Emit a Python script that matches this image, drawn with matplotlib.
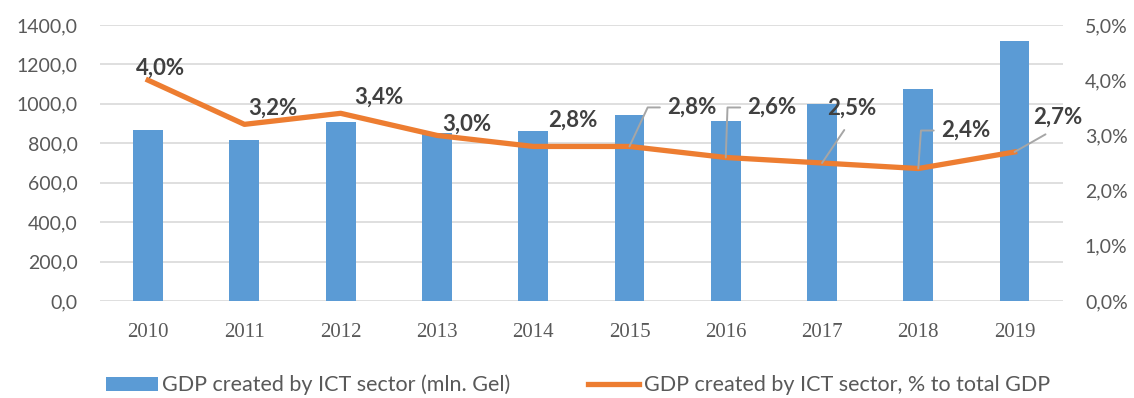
import numpy as np
import matplotlib.pyplot as plt
from matplotlib.patches import Patch
from matplotlib.lines import Line2D

# ICT sector figures, Georgia
years = ['2010', '2011', '2012', '2013', '2014', '2015', '2016', '2017', '2018', '2019']
gdp_ict = [867, 817, 908, 853, 864, 945, 913, 999, 1075, 1320]
share_pct = [4.0, 3.2, 3.4, 3.0, 2.8, 2.8, 2.6, 2.5, 2.4, 2.7]

BLUE = '#5B9BD5'
ORANGE = '#ED7D31'
GREY_TXT = '#595959'
LABEL_TXT = '#404040'

plt.rcParams['font.family'] = ['Lato', 'DejaVu Sans']

fig = plt.figure(figsize=(11.34, 3.98), dpi=100)
ax = fig.add_axes([100 / 1134, 1 - 301 / 398, 962.7 / 1134, 276 / 398])
x = np.arange(len(years))

ax.bar(x, gdp_ict, width=0.31, color=BLUE, zorder=2)
ax.set_ylim(0, 1400)
ax.set_yticks(np.arange(0, 1401, 200))
ax.set_yticklabels([f'{v:.1f}'.replace('.', ',') for v in np.arange(0, 1401, 200)])
ax.set_xlim(-0.5, len(years) - 0.5)
ax.set_xticks(x)
ax.set_xticklabels(years, family='Liberation Serif', fontsize=15, color=GREY_TXT)
ax.grid(axis='y', color='#D9D9D9', linewidth=1.2, zorder=0)
ax.set_axisbelow(True)
ax.tick_params(axis='y', length=0, pad=16, labelsize=14, labelcolor=GREY_TXT)
ax.tick_params(axis='x', length=0, pad=16)
for s in ax.spines.values():
    s.set_visible(False)

ax2 = ax.twinx()
ax2.plot(x, share_pct, color=ORANGE, linewidth=3.8, solid_joinstyle='round', zorder=3)
ax2.set_ylim(0, 5)
ax2.set_yticks(np.arange(0, 5.1, 1))
ax2.set_yticklabels([f'{v:.1f}%'.replace('.', ',') for v in np.arange(0, 5.1, 1)])
ax2.tick_params(axis='y', length=0, pad=16, labelsize=14, labelcolor=GREY_TXT)
for s in ax2.spines.values():
    s.set_visible(False)

# label offsets in pixels (text centre relative to point), plus leader style
offsets = [(12, 12), (28, 16), (38, 16), (30, 11), (40, 26),
           (62, 39), (46, 50), (30, 55), (47, 38), (43, 35)]
leaders = [None, None, None, None, None,
           ('elbow', 65), ('elbow', 88), ('straight', None), ('elbow', 86), ('straight', None)]

for i, v in enumerate(share_pct):
    txt = f'{v:.1f}%'.replace('.', ',')
    kw = dict(xy=(x[i], v), xytext=offsets[i], textcoords='offset pixels',
              ha='center', va='center', fontsize=16, fontweight='bold',
              color=LABEL_TXT, zorder=5)
    lead = leaders[i]
    if lead is None:
        ax2.annotate(txt, **kw)
    elif lead[0] == 'elbow':
        ax2.annotate(txt, arrowprops=dict(
            arrowstyle='-', color='#A6A6A6', lw=1.4, relpos=(0, 0.5),
            connectionstyle=f'angle,angleA=0,angleB={lead[1]},rad=0',
            shrinkA=5, shrinkB=0, patchA=None), **kw)
    else:
        ax2.annotate(txt, arrowprops=dict(
            arrowstyle='-', color='#A6A6A6', lw=1.4, relpos=(0.5, 0),
            shrinkA=10, shrinkB=0, patchA=None), **kw)

handles = [Patch(facecolor=BLUE, edgecolor='none'),
           Line2D([0], [0], color=ORANGE, linewidth=3.8)]
fig.legend(handles, ['GDP created by ICT sector (mln. Gel)',
                     'GDP created by ICT sector, % to total GDP'],
           loc='center', bbox_to_anchor=(578 / 1134, 1 - 385 / 398), ncol=2,
           frameon=False, fontsize=15.5, labelcolor=GREY_TXT,
           handlelength=2.4, handleheight=0.6, handletextpad=0.2, columnspacing=3.6)

fig.savefig('out.png', dpi=100)
